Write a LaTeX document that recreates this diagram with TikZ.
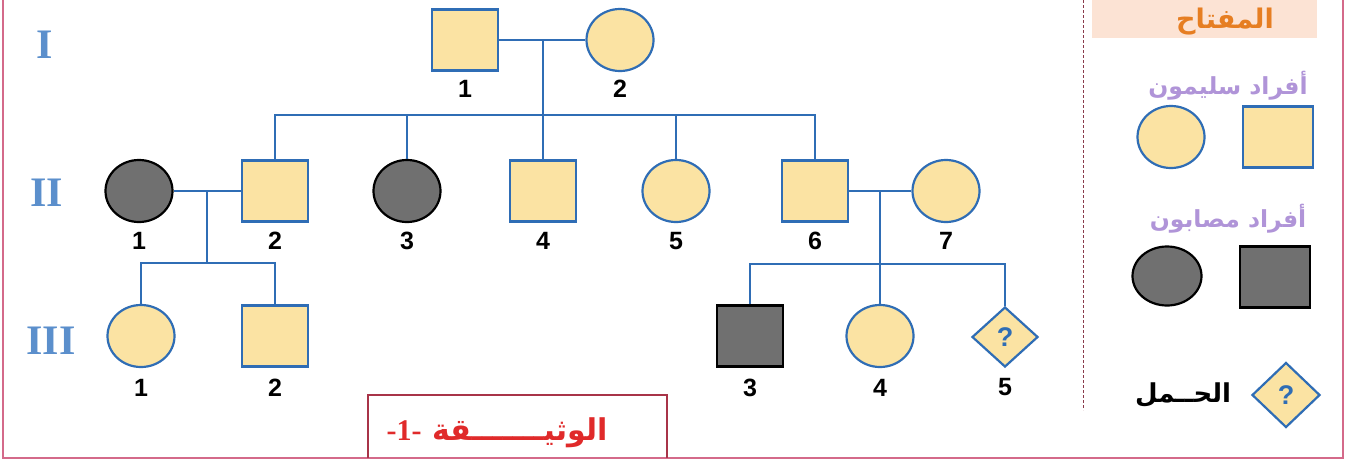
\documentclass[tikz,border=0pt]{standalone}
\usepackage{fontspec}
\setmainfont{Liberation Sans}
\newfontfamily\romanfont{Liberation Serif}
\newfontfamily\arabicfont[Script=Arabic]{DejaVu Sans}
\TeXXeTstate=1
\usetikzlibrary{shapes.geometric}
\definecolor{fillY}{HTML}{FBE3A3}
\definecolor{lineB}{HTML}{2F6DB5}
\definecolor{fillG}{HTML}{707070}
\definecolor{genB}{HTML}{5B8FCC}
\definecolor{frameP}{HTML}{D46A8A}
\definecolor{peach}{HTML}{FCE3D4}
\definecolor{orangeT}{HTML}{E67E22}
\definecolor{purpleT}{HTML}{B094D8}
\definecolor{capR}{HTML}{E02A2A}
\definecolor{capBox}{HTML}{A83448}
\definecolor{dashC}{HTML}{8A3A4A}
\begin{document}
\begin{tikzpicture}[x=1pt,y=-1pt,
 healthy/.style={fill=fillY, draw=lineB, line width=2.2pt},
 ill/.style={fill=fillG, draw=black, line width=2.2pt},
 sq/.style={rectangle, minimum width=66pt, minimum height=61pt, inner sep=0pt},
 ci/.style={ellipse, minimum width=67pt, minimum height=62pt, inner sep=0pt},
 dia/.style={diamond, minimum width=66pt, minimum height=60pt, inner sep=0pt, font=\bfseries\fontsize{27}{27}\selectfont, text=lineB},
 lab/.style={font=\bfseries\fontsize{25}{25}\selectfont},
 gen/.style={font=\romanfont\bfseries\fontsize{42}{42}\selectfont, text=genB},
 link/.style={draw=lineB, line width=2.2pt},
 artext/.style={font=\arabicfont\bfseries\fontsize{23.5}{23.5}\selectfont}
]
\useasboundingbox (0,0) rectangle (1352,464);
\fill[white] (0,0) rectangle (1352,464);
% frame
\draw[frameP, line width=1.6pt] (3,0) -- (3,458) -- (1343,458) -- (1343,0);
% legend header
\fill[peach] (1092,0) rectangle (1317,38);
\draw[dashC, line width=1pt, dash pattern=on 3pt off 2pt] (1083,0) -- (1083,410);

% generation labels
\node[gen] (gI) at (45,45) {I};
\node[gen] (gII) at (47,193) {II};
\node[gen] (gIII) at (51,341) {III};

% Generation I
\node[sq, healthy] (I1) at (465,40) {};
\node[ci, healthy] (I2) at (620,40) {};
% Generation II
\node[ci, ill] (II1) at (139,191) {};
\node[sq, healthy] (II2) at (275,191) {};
\node[ci, ill] (II3) at (407,191) {};
\node[sq, healthy] (II4) at (543,191) {};
\node[ci, healthy] (II5) at (676,191) {};
\node[sq, healthy] (II6) at (815,191) {};
\node[ci, healthy] (II7) at (946,191) {};
% Generation III
\node[ci, healthy] (III1) at (141,336) {};
\node[sq, healthy] (III2) at (275,336) {};
\node[sq, ill] (III3) at (750,336) {};
\node[ci, healthy] (III4) at (880,336) {};
\node[dia, healthy] (III5) at (1005,337) {?};

% number labels
\node[lab] (tI1) at ([yshift=-17pt]I1.south) {1};
\node[lab] (tI2) at ([yshift=-17pt]I2.south) {2};
\foreach \n/\t in {II1/1,II2/2,II3/3,II4/4,II5/5,II6/6,II7/7}
  \node[lab] (t\n) at ([yshift=-18pt]\n.south) {\t};
\foreach \n/\t in {III1/1,III2/2,III3/3,III4/4}
  \node[lab] (t\n) at ([yshift=-20pt]\n.south) {\t};
\node[lab] (tIII5) at (1005,387) {5};

% connectors
\coordinate (m1) at (543,40);
\coordinate (s1) at (543,115);
\draw[link] (I1.east) -- (I2.west);
\draw[link] (m1) -- (s1);
\draw[link] (II2.north) -- (II2.north |- s1) -- (II6.north |- s1) -- (II6.north);
\draw[link] (II3.north) -- (II3.north |- s1);
\draw[link] (II4.north) -- (II4.north |- s1);
\draw[link] (II5.north) -- (II5.north |- s1);

\coordinate (m2) at (207,191);
\coordinate (s2) at (207,263);
\draw[link] (II1.east) -- (II2.west);
\draw[link] (m2) -- (s2);
\draw[link] (III1.north) -- (III1.north |- s2) -- (III2.north |- s2) -- (III2.north);

\coordinate (m3) at (880,191);
\coordinate (s3) at (880,264);
\draw[link] (II6.east) -- (II7.west);
\draw[link] (m3) -- (s3) -- (III4.north);
\draw[link] (III3.north) -- (III3.north |- s3) -- (III5.north |- s3) -- (III5.north);

% legend
\node[artext, text=orangeT, font=\arabicfont\bfseries\fontsize{27}{27}\selectfont, anchor=base] (khead) at (1225,28) {\beginR المفتاح\endR};
\node[artext, text=purpleT] (khealthy) at (1228,86) {\beginR أفراد سليمون\endR};
\node[ci, healthy] (K1) at (1171,137) {};
\node[sq, healthy, minimum width=70pt] (K2) at (1278,137) {};
\node[artext, text=purpleT] (kill) at (1228,219) {\beginR أفراد مصابون\endR};
\node[ci, ill, minimum width=69pt, minimum height=59pt] (K3) at (1167,276) {};
\node[sq, ill, minimum width=70pt] (K4) at (1275,277) {};
\node[dia, healthy, minimum width=68pt, minimum height=65pt] (K5) at (1286,395) {?};
\node[artext, font=\arabicfont\bfseries\fontsize{26}{26}\selectfont] (kpreg) at (1183,395) {\beginR الحــمل\endR};

% caption
\draw[capBox, line width=1.2pt] (368,458) -- (368,395) -- (667,395) -- (667,458);
\node[text=capR, font=\arabicfont\bfseries\fontsize{30}{30}\selectfont] (cap) at (497,433) {\beginR الوثيـــــــقة \beginL{\romanfont -1-}\endL\endR};
\end{tikzpicture}
\end{document}
